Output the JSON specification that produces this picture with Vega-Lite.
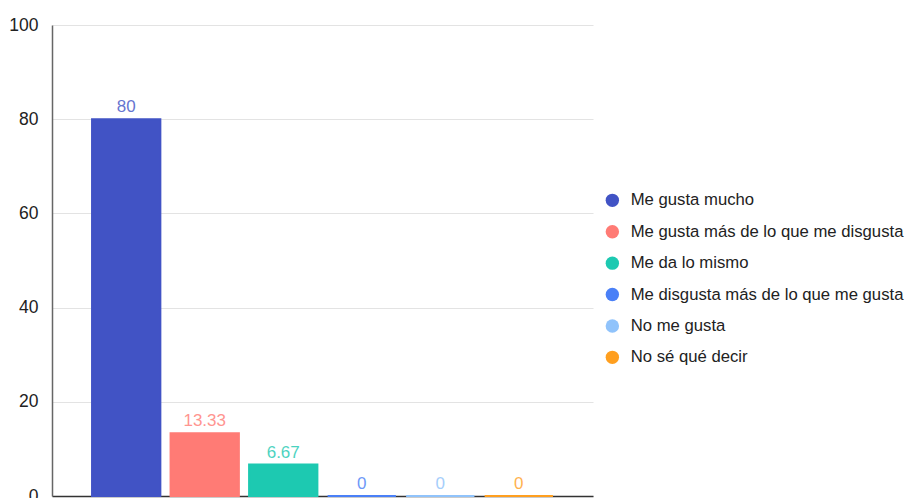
{
  "$schema": "https://vega.github.io/schema/vega-lite/v6.json",
  "width": 541,
  "height": 471,
  "autosize": "none",
  "padding": {"left": 52, "top": 25, "right": 313, "bottom": 2},
  "background": "white",
  "config": {
    "font": "Liberation Sans",
    "view": {"stroke": null}
  },
  "data": {
    "values": [
      {"respuesta": "Me gusta mucho", "valor": 80, "etiqueta": "80"},
      {"respuesta": "Me gusta más de lo que me disgusta", "valor": 13.33, "etiqueta": "13.33"},
      {"respuesta": "Me da lo mismo", "valor": 6.67, "etiqueta": "6.67"},
      {"respuesta": "Me disgusta más de lo que me gusta", "valor": 0, "etiqueta": "0"},
      {"respuesta": "No me gusta", "valor": 0, "etiqueta": "0"},
      {"respuesta": "No sé qué decir", "valor": 0, "etiqueta": "0"}
    ]
  },
  "encoding": {
    "x": {
      "field": "respuesta",
      "type": "nominal",
      "sort": null,
      "scale": {"paddingInner": 0.13, "paddingOuter": 0.51},
      "axis": {"labels": false, "ticks": false, "title": null, "domainColor": "#333333", "domainWidth": 1.5}
    },
    "y": {
      "field": "valor",
      "type": "quantitative",
      "scale": {"domain": [0, 100], "nice": false},
      "axis": {
        "values": [0, 20, 40, 60, 80, 100],
        "title": null,
        "ticks": false,
        "labelFontSize": 17.5,
        "labelColor": "#222222",
        "labelPadding": 14,
        "gridColor": "#e3e3e3",
        "domainColor": "#666666",
        "domainWidth": 1.5
      }
    },
    "color": {
      "field": "respuesta",
      "type": "nominal",
      "sort": null,
      "scale": {
        "domain": ["Me gusta mucho", "Me gusta más de lo que me disgusta", "Me da lo mismo", "Me disgusta más de lo que me gusta", "No me gusta", "No sé qué decir"],
        "range": ["#4153c5", "#ff7b75", "#1dc9b1", "#4a80f7", "#90c3fb", "#ff9f1f"]
      },
      "legend": {
        "orient": "none",
        "legendX": 552,
        "legendY": 167,
        "title": null,
        "symbolType": "circle",
        "symbolSize": 180,
        "symbolOpacity": 1,
        "symbolStrokeWidth": 0,
        "labelFontSize": 16.7,
        "labelColor": "#222222",
        "labelOffset": 10,
        "rowPadding": 13.4,
        "labelLimit": 400
      }
    }
  },
  "layer": [
    {
      "mark": {"type": "bar", "strokeWidth": 2},
      "encoding": {
        "stroke": {
          "field": "respuesta",
          "type": "nominal",
          "sort": null,
          "scale": {
            "domain": ["Me gusta mucho", "Me gusta más de lo que me disgusta", "Me da lo mismo", "Me disgusta más de lo que me gusta", "No me gusta", "No sé qué decir"],
            "range": ["#4153c5", "#ff7b75", "#1dc9b1", "#4a80f7", "#90c3fb", "#ff9f1f"]
          },
          "legend": null
        }
      }
    },
    {
      "mark": {"type": "text", "baseline": "bottom", "dy": -3, "fontSize": 17, "opacity": 0.8},
      "encoding": {
        "text": {"field": "etiqueta", "type": "nominal"}
      }
    }
  ]
}
